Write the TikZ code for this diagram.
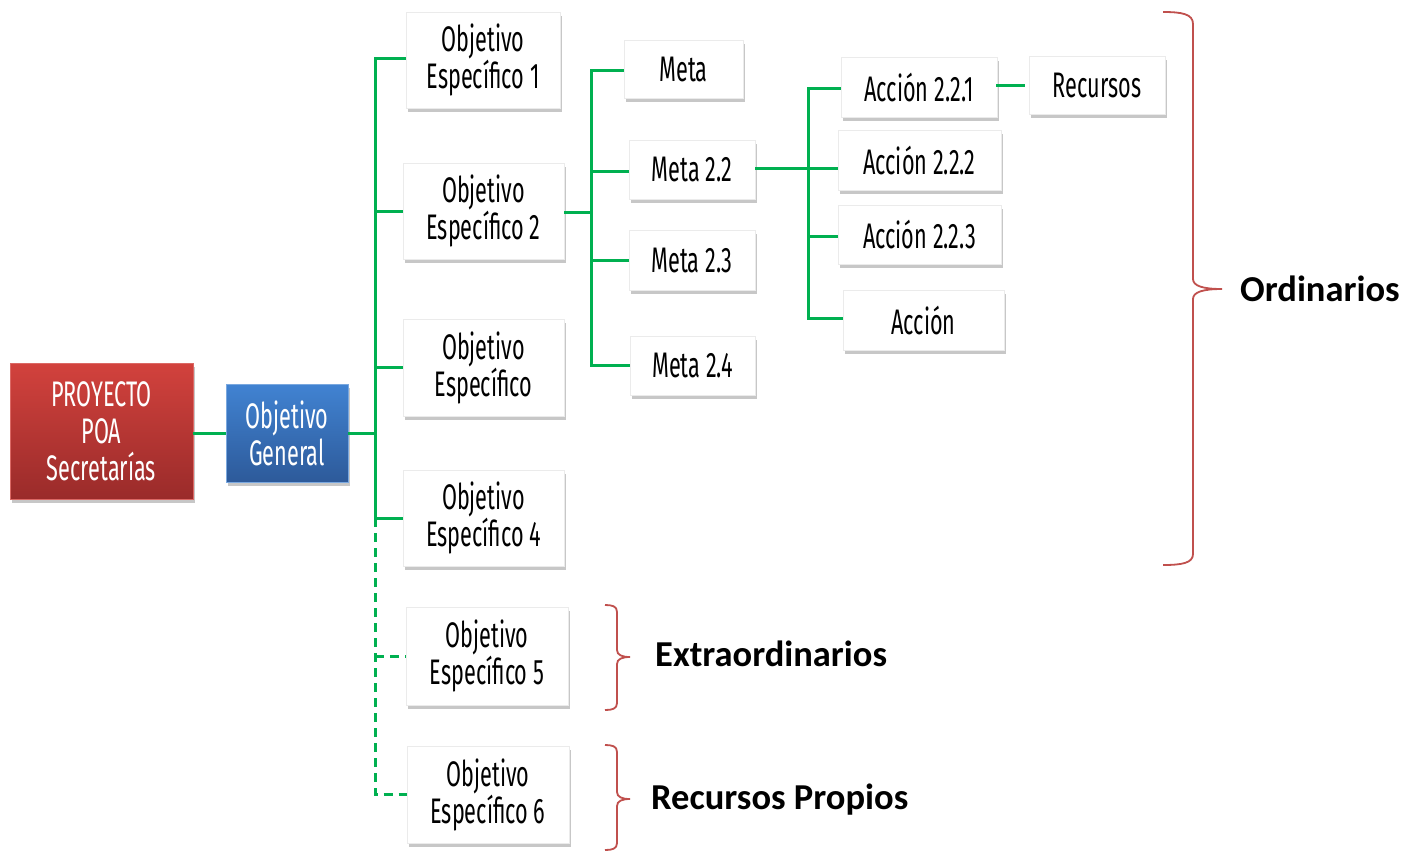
\documentclass[tikz,border=0pt]{standalone}
\usepackage{fontspec}
\usetikzlibrary{shadows}
\newfontfamily\agency[FakeStretch=0.61]{Fira Sans}
\newfontfamily\calib{Carlito}
\definecolor{lgreen}{HTML}{00B050}
\definecolor{bred}{HTML}{C0504D}
\definecolor{rtop}{HTML}{D2423D}
\definecolor{rbot}{HTML}{9A2B2A}
\definecolor{btop}{HTML}{4183D2}
\definecolor{bbot}{HTML}{2D5A9A}
\tikzset{
  box/.style={rectangle, fill=white, draw=black!8, line width=0.5pt, align=center,
    inner sep=0pt, font=\agency\fontsize{35.5}{37}\selectfont,
    drop shadow={shadow xshift=2pt, shadow yshift=-4pt, fill=black, opacity=0.22}},
  redbox/.style={box, draw=rtop!80!white, top color=rtop, bottom color=rbot, text=white},
  bluebox/.style={box, draw=btop!70!white, top color=btop, bottom color=bbot, text=white},
  conn/.style={draw=lgreen, line width=3pt},
  dconn/.style={conn, dash pattern=on 9pt off 6pt},
  brace/.style={draw=bred, line width=1.8pt},
  blabel/.style={anchor=west, inner sep=0pt, font=\calib\bfseries\fontsize{36.5}{38}\selectfont}
}
\begin{document}
\begin{tikzpicture}[x=1pt,y=-1pt]
\useasboundingbox (0,0) rectangle (1421,852);
% nodes
\node[redbox, minimum width=183pt, minimum height=136pt] (poa) at (101.5,431) {PROYECTO\\POA\\Secretarías};
\node[bluebox, minimum width=122pt, minimum height=98pt] (og) at (287,433) {Objetivo\\General};
\node[box, minimum width=154pt, minimum height=96pt] (oe1) at (483,60) {Objetivo\\Específico 1};
\node[box, minimum width=161pt, minimum height=96pt] (oe2) at (483.5,211) {Objetivo\\Específico 2};
\node[box, minimum width=161pt, minimum height=97pt] (oe3) at (483.5,367.5) {Objetivo\\Específico};
\node[box, minimum width=161pt, minimum height=96pt] (oe4) at (483.5,518) {Objetivo\\Específico 4};
\node[box, minimum width=162pt, minimum height=98pt] (oe5) at (487,656) {Objetivo\\Específico 5};
\node[box, minimum width=162pt, minimum height=97pt] (oe6) at (488,794.5) {Objetivo\\Específico 6};
\node[box, minimum width=119pt, minimum height=58pt] (m1) at (683.5,69) {Meta};
\node[box, minimum width=126pt, minimum height=59pt] (m22) at (692,169.5) {Meta 2.2};
\node[box, minimum width=126pt, minimum height=60pt] (m23) at (692,260) {Meta 2.3};
\node[box, minimum width=125pt, minimum height=59pt] (m24) at (692.5,365.5) {Meta 2.4};
\node[box, minimum width=156pt, minimum height=60pt] (a221) at (919,87) {Acción 2.2.1};
\node[box, minimum width=163pt, minimum height=60pt] (a222) at (919.5,160) {Acción 2.2.2};
\node[box, minimum width=163pt, minimum height=59pt] (a223) at (919.5,234.5) {Acción 2.2.3};
\node[box, minimum width=161pt, minimum height=60pt] (a224) at (923.5,320) {Acción};
\node[box, minimum width=136pt, minimum height=58pt] (rec) at (1097,85) {Recursos};
% trunk coordinates
\coordinate (t0) at (375,433);
\coordinate (t1) at (591,212);
\coordinate (t2) at (808,168);
% connectors
\draw[conn] (poa.east |- og.west) -- (og.west);
\draw[conn] (og.east) -- (t0);
\draw[conn] (oe1.west |- 0,58) -| (t0 |- oe4.west) -- (oe4.west);
\draw[conn] (t0 |- oe2.west) -- (oe2.west);
\draw[conn] (t0 |- oe3.west) -- (oe3.west);
\draw[dconn] (t0 |- oe4.west) -- (t0 |- oe6.west) -- (oe6.west);
\draw[dconn] (t0 |- oe5.west) -- (oe5.west);
\draw[conn] (oe2.east |- t1) -- (t1);
\draw[conn] (m1.west |- 0,70) -| (t1 |- m24.west) -- (m24.west);
\draw[conn] (t1 |- 0,171) -- (m22.west |- 0,171);
\draw[conn] (t1 |- m23.west) -- (m23.west);
\draw[conn] (m22.east |- t2) -- (a222.west |- t2);
\draw[conn] (a221.west |- 0,88) -| (t2 |- 0,318) -- (a224.west |- 0,318);
\draw[conn] (t2 |- 0,236) -- (a223.west |- 0,236);
\draw[conn] ([xshift=-1pt]a221.east |- rec.west) -- ([xshift=-4pt]rec.west);
% braces
\coordinate (b1) at (1222,289);
\draw[brace] (1163,12) .. controls (1182,12) and (1193,14) .. (1193,24) -- (1193,279)
  .. controls (1193,286) and (1203,289) .. (b1)
  .. controls (1203,289) and (1193,292) .. (1193,299) -- (1193,554)
  .. controls (1193,563) and (1182,565) .. (1163,565);
\coordinate (b2) at (630,657);
\draw[brace] (605,605) .. controls (612,605) and (617,606) .. (617,612) -- (617,650)
  .. controls (617,655) and (622,657) .. (b2)
  .. controls (622,657) and (617,659) .. (617,664) -- (617,703)
  .. controls (617,709) and (612,710) .. (605,710);
\coordinate (b3) at (630,799);
\draw[brace] (605,745) .. controls (612,745) and (617,746) .. (617,752) -- (617,792)
  .. controls (617,797) and (622,799) .. (b3)
  .. controls (622,799) and (617,801) .. (617,806) -- (617,843)
  .. controls (617,849) and (612,850) .. (605,850);
% brace labels
\node[blabel] (lord) at (1240,289) {Ordinarios};
\node[blabel] (lext) at (655,654) {Extraordinarios};
\node[blabel] (lrp) at (651,800) {Recursos Propios};
\end{tikzpicture}
\end{document}
